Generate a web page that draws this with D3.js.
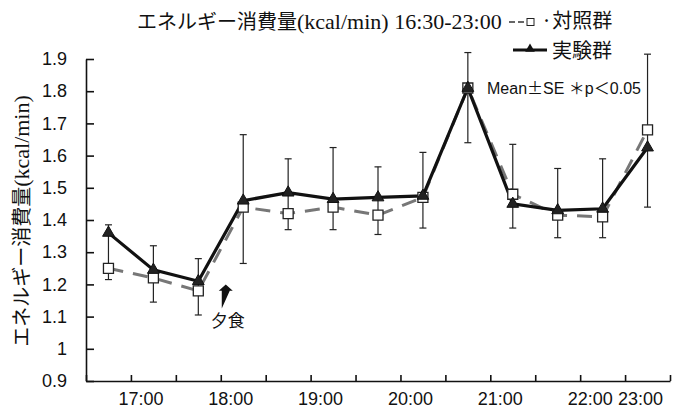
<!DOCTYPE html>
<html>
<head>
<meta charset="utf-8">
<script src="https://cdn.jsdelivr.net/npm/d3@7"></script>
<style>
  body { margin: 0; background: #fff; }
  svg { display: block; }
</style>
</head>
<body>
<div id="chart"></div>
<script>
// half-hour slots, value plotted at the middle of each slot (hours)
var slotMid = [16.75, 17.25, 17.75, 18.25, 18.75, 19.25, 19.75, 20.25, 20.75, 21.25, 21.75, 22.25, 22.75];

// 実験群 (triangles)
var expMean = [1.36, 1.245, 1.21, 1.46, 1.485, 1.465, 1.47, 1.475, 1.81, 1.45, 1.43, 1.435, 1.625];
// 対照群 (squares)
var ctrlMean = [1.25, 1.22, 1.18, 1.44, 1.42, 1.44, 1.415, 1.47, 1.81, 1.48, 1.415, 1.41, 1.68];

// error bar extents (Mean ± SE) as drawn
var errLow = [1.215, 1.145, 1.105, 1.265, 1.37, 1.37, 1.355, 1.375, 1.64, 1.375, 1.345, 1.345, 1.44];
var errHigh = [1.385, 1.32, 1.28, 1.665, 1.59, 1.625, 1.565, 1.61, 1.92, 1.635, 1.56, 1.59, 1.915];

var hourTicks = [17, 18, 19, 20, 21, 22, 23];
var hourLabels = ["17:00", "18:00", "19:00", "20:00", "21:00", "22:00", "23:00"];
var yTicks = [0.9, 1, 1.1, 1.2, 1.3, 1.4, 1.5, 1.6, 1.7, 1.8, 1.9];

var width = 679,
    height = 409;

var jp = "'Noto Sans CJK JP', sans-serif",
    sans = "'Liberation Sans', Arial, sans-serif",
    serif = "'Liberation Serif', 'Times New Roman', serif";

var svg = d3.select("#chart").append("svg")
    .attr("width", width)
    .attr("height", height);

var x = d3.scaleLinear().domain([16.5, 23]).range([86, 670]);
var y = d3.scaleLinear().domain([0.9, 1.9]).range([381, 59]);

// axes
var yAxis = d3.axisLeft(y)
    .tickValues(yTicks)
    .tickSizeInner(-8)
    .tickSizeOuter(0)
    .tickPadding(19)
    .tickFormat(function (d) { return String(+d.toFixed(1)); });

var gy = svg.append("g")
    .attr("transform", "translate(" + x.range()[0] + ",0)")
    .call(yAxis);
gy.selectAll("text").style("font", "18px " + sans).attr("fill", "#111");
gy.selectAll("line, path").attr("stroke", "#111").attr("stroke-width", 1.6);

var xAxis = d3.axisBottom(x)
    .tickValues(d3.range(16.5, 23.01, 0.5))
    .tickSizeInner(-6)
    .tickSizeOuter(0)
    .tickFormat("");

var gx = svg.append("g")
    .attr("transform", "translate(0," + y.range()[0] + ")")
    .call(xAxis);
gx.selectAll("line, path").attr("stroke", "#111").attr("stroke-width", 1.6);

// hour labels sit a little right of their tick; the last one is pulled in
svg.append("g").selectAll("text")
    .data(hourTicks)
    .enter().append("text")
    .attr("x", function (d, i) {
        return i == hourTicks.length - 1 ? x(d) - 7 : x(d) + 10;
    })
    .attr("y", 405)
    .attr("text-anchor", function (d, i) {
        return i == hourTicks.length - 1 ? "end" : "middle";
    })
    .style("font", "18px " + sans)
    .attr("fill", "#111")
    .text(function (d, i) { return hourLabels[i]; });

// error bars
var bars = svg.append("g").attr("class", "errbars");
slotMid.forEach(function (t, i) {
    var cx = x(t);
    bars.append("line")
        .attr("x1", cx).attr("x2", cx)
        .attr("y1", y(errLow[i])).attr("y2", y(errHigh[i]))
        .attr("stroke", "#222").attr("stroke-width", 1.2);
    [errLow[i], errHigh[i]].forEach(function (v) {
        bars.append("line")
            .attr("x1", cx - 3.5).attr("x2", cx + 3.5)
            .attr("y1", y(v)).attr("y2", y(v))
            .attr("stroke", "#222").attr("stroke-width", 1.2);
    });
});

// lines
var meanLine = d3.line()
    .x(function (d, i) { return x(slotMid[i]); })
    .y(function (d) { return y(d); });

svg.append("path")
    .datum(ctrlMean)
    .attr("d", meanLine)
    .attr("fill", "none")
    .attr("stroke", "#777")
    .attr("stroke-width", 3)
    .attr("stroke-dasharray", "15,10");

svg.append("path")
    .datum(expMean)
    .attr("d", meanLine)
    .attr("fill", "none")
    .attr("stroke", "#111")
    .attr("stroke-width", 3.2);

// markers
svg.append("g").selectAll("path")
    .data(ctrlMean)
    .enter().append("path")
    .attr("d", d3.symbol(d3.symbolSquare).size(100))
    .attr("transform", function (d, i) {
        return "translate(" + x(slotMid[i]) + "," + y(d) + ")";
    })
    .attr("fill", "#fff")
    .attr("stroke", "#222")
    .attr("stroke-width", 1.3);

svg.append("g").selectAll("path")
    .data(expMean)
    .enter().append("path")
    .attr("d", d3.symbol(d3.symbolTriangle).size(60))
    .attr("transform", function (d, i) {
        return "translate(" + x(slotMid[i]) + "," + y(d) + ")";
    })
    .attr("fill", "#222")
    .attr("stroke", "#111")
    .attr("stroke-width", 1);

// title
var title = svg.append("text")
    .attr("x", 137)
    .attr("y", 29)
    .attr("fill", "#111");
title.append("tspan").style("font", "20px " + jp).text("エネルギー消費量");
title.append("tspan").style("font", "22px " + serif).text("(kcal/min) 16:30-23:00");

// y label
var ylab = svg.append("text")
    .attr("transform", "translate(29,221) rotate(-90)")
    .attr("text-anchor", "middle")
    .attr("fill", "#111");
ylab.append("tspan").style("font", "20px " + jp).text("エネルギー消費量");
ylab.append("tspan").style("font", "22px " + serif).text("(kcal/min)");

// legend
var lg = svg.append("g");
lg.append("line")
    .attr("x1", 509).attr("x2", 530).attr("y1", 22).attr("y2", 22)
    .attr("stroke", "#666").attr("stroke-width", 2).attr("stroke-dasharray", "6,3");
lg.append("rect")
    .attr("x", 527).attr("y", 18.5).attr("width", 7).attr("height", 7)
    .attr("fill", "#fff").attr("stroke", "#222");
lg.append("text")
    .attr("x", 541).attr("y", 28)
    .style("font", "20px " + jp).attr("fill", "#111")
    .text("·対照群");

lg.append("line")
    .attr("x1", 513).attr("x2", 547).attr("y1", 50).attr("y2", 50)
    .attr("stroke", "#111").attr("stroke-width", 3);
lg.append("path")
    .attr("d", d3.symbol(d3.symbolTriangle).size(40))
    .attr("transform", "translate(530,49)")
    .attr("fill", "#111");
lg.append("text")
    .attr("x", 552).attr("y", 58)
    .style("font", "20px " + jp).attr("fill", "#111")
    .text("実験群");

var note = svg.append("text")
    .attr("x", 487).attr("y", 94)
    .attr("fill", "#111");
note.append("tspan").style("font", "16px " + sans).text("Mean");
note.append("tspan").style("font", "16px " + jp).text("±");
note.append("tspan").style("font", "16px " + sans).text("SE ");
note.append("tspan").style("font", "16px " + jp).text("＊");
note.append("tspan").style("font", "16px " + sans).text("p");
note.append("tspan").style("font", "16px " + jp).text("＜");
note.append("tspan").style("font", "16px " + sans).text("0.05");

// dinner arrow
var ax = x(18) + 5;
svg.append("path")
    .attr("d", "M" + (ax - 4) + "," + y(1.125) + "V" + y(1.18) + "H" + (ax - 7) +
        "L" + ax + "," + y(1.2) + "L" + (ax + 7) + "," + y(1.18) + "H" + (ax + 4) + "Z")
    .attr("fill", "#111");
svg.append("text")
    .attr("x", ax + 2).attr("y", 327)
    .attr("text-anchor", "middle")
    .style("font", "17px " + jp).attr("fill", "#111")
    .text("夕食");
</script>
</body>
</html>
